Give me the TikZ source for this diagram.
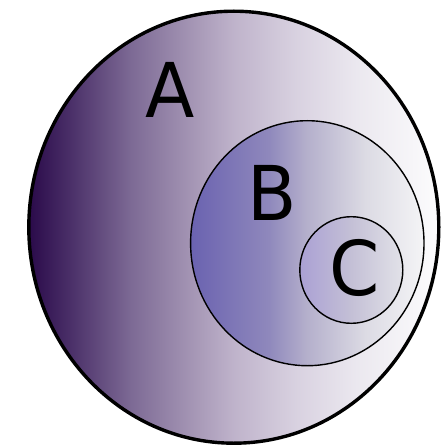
\documentclass[tikz,border=0pt]{standalone}
\usepackage{fontspec}
\newfontfamily\dv{DejaVu Sans}
\definecolor{a0}{HTML}{2A0A4A}
\definecolor{a1}{HTML}{4A2F68}
\definecolor{a2}{HTML}{7D6A95}
\definecolor{a3}{HTML}{A596B5}
\definecolor{a4}{HTML}{BFB3CB}
\definecolor{a5}{HTML}{D8D1E0}
\definecolor{a6}{HTML}{EBE8EF}
\definecolor{a7}{HTML}{FCFCFD}
\definecolor{b0}{HTML}{6A62B0}
\definecolor{b1}{HTML}{8F88BC}
\definecolor{b2}{HTML}{B5B0CC}
\definecolor{b3}{HTML}{DCDBE4}
\definecolor{b4}{HTML}{F4F4F6}
\definecolor{c0}{HTML}{AAA0D4}
\definecolor{c1}{HTML}{C4C0D6}
\definecolor{c2}{HTML}{E2E2E8}
\pgfdeclarehorizontalshading{shA}{100bp}{color(0bp)=(a0); color(25bp)=(a0); color(30bp)=(a1); color(37.5bp)=(a2); color(45bp)=(a3); color(50bp)=(a4); color(57.5bp)=(a5); color(65bp)=(a6); color(75bp)=(a7); color(100bp)=(a7)}
\pgfdeclarehorizontalshading{shB}{100bp}{color(0bp)=(b0); color(25bp)=(b0); color(41.7bp)=(b1); color(50bp)=(b2); color(62.5bp)=(b3); color(75bp)=(b4); color(100bp)=(b4)}
\pgfdeclarehorizontalshading{shC}{100bp}{color(0bp)=(c0); color(25bp)=(c0); color(50bp)=(c1); color(75bp)=(c2); color(100bp)=(c2)}
\tikzset{
  setA/.style={draw=black, line width=3.4pt, shading=shA},
  setB/.style={draw=black, line width=1.4pt, shading=shB},
  setC/.style={draw=black, line width=1.4pt, shading=shC},
  lbl/.style={anchor=base, inner sep=0pt, font=\dv\fontsize{72}{80}\selectfont}
}
\begin{document}
\begin{tikzpicture}[x=1pt,y=-1pt]
\useasboundingbox (0,0) rectangle (441,446);
\path[setA] (233.8,227.2) ellipse [x radius=205pt, y radius=216pt];
\path[setB] (307.3,243.2) ellipse [x radius=116.7pt, y radius=122.5pt];
\path[setC] (351.3,270) ellipse [x radius=51.5pt, y radius=53.3pt];
\node[lbl] (la) at (170.4,117.3) {\scalebox{1}[1.05]{A}};
\node[lbl] (lb) at (272.5,220.7) {\scalebox{1}[1.05]{B}};
\node[lbl] (lc) at (354.3,295.5) {\scalebox{1}[1.05]{C}};
\end{tikzpicture}
\end{document}
